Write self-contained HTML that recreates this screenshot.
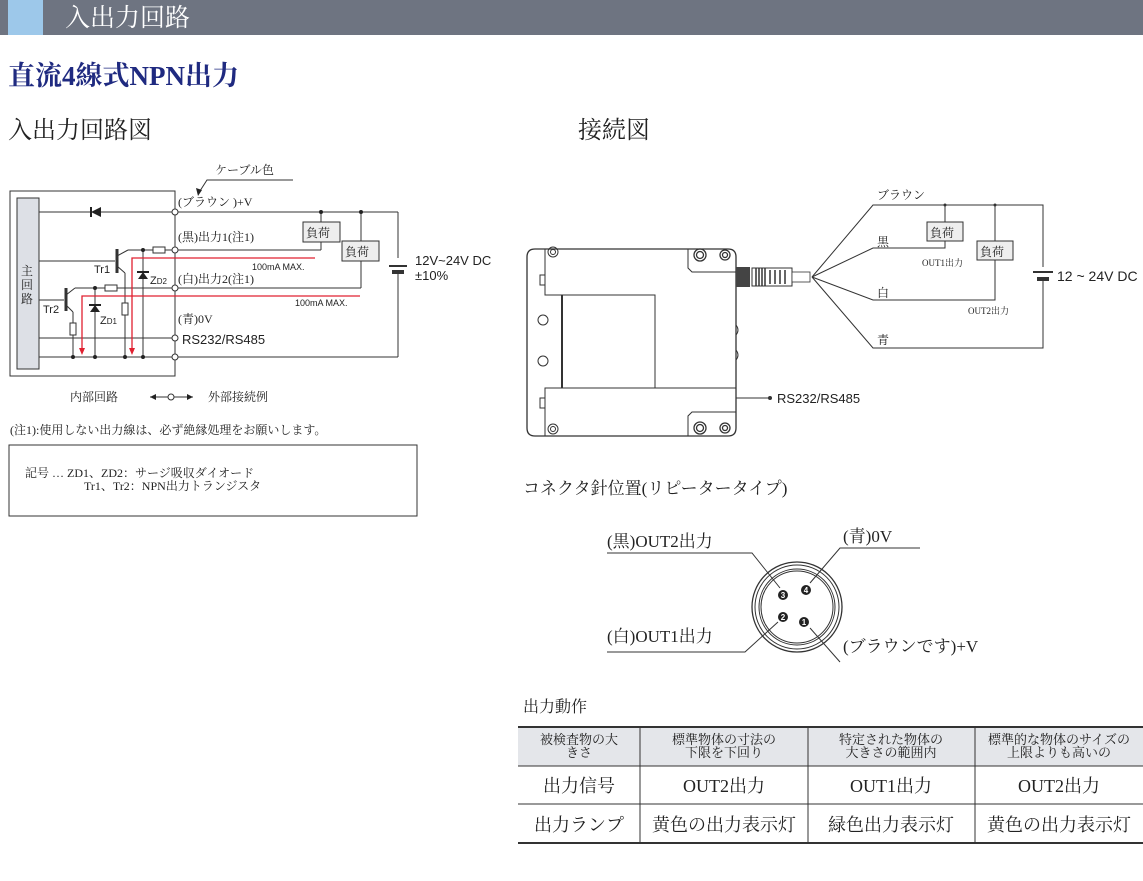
<!DOCTYPE html>
<html><head><meta charset="utf-8"><style>
body{margin:0;background:#fff;}
svg text{font-family:"Liberation Serif","Noto Serif CJK SC","Noto Sans CJK JP",serif;fill:#222;}
.s{font-family:"Liberation Sans","Noto Sans CJK JP",sans-serif !important;}
</style></head><body>
<svg width="1143" height="876" viewBox="0 0 1143 876" xmlns="http://www.w3.org/2000/svg">
<rect x="0" y="0" width="1143" height="35" fill="#6e7481"/>
<rect x="8" y="0" width="35" height="35" fill="#9dc8ea"/>
<text x="65" y="26" font-size="25" style="fill:#fff">入出力回路</text>
<text x="8" y="85" font-size="27" font-weight="bold" style="fill:#1f2a80">直流4線式NPN出力</text>
<text x="8" y="138" font-size="24">入出力回路図</text>
<text x="578" y="138" font-size="24">接続図</text>

<!-- circuit -->
<g stroke="#333" stroke-width="1" fill="none">
<rect x="10" y="191" width="165" height="185"/>
<rect x="17" y="198" width="22" height="171" fill="#dde0e6"/>
<line x1="39" y1="212" x2="398" y2="212"/>
<line x1="398" y1="212" x2="398" y2="357"/>
<line x1="39" y1="357" x2="398" y2="357"/>
<line x1="39" y1="338" x2="175" y2="338"/>
<line x1="128" y1="250" x2="321" y2="250"/>
<line x1="321" y1="212" x2="321" y2="250"/>
<line x1="75" y1="288" x2="361" y2="288"/>
<line x1="361" y1="212" x2="361" y2="288"/>
<rect x="303" y="222" width="37" height="20" fill="#eee"/>
<rect x="342" y="241" width="37" height="20" fill="#eee"/>
<line x1="39" y1="261" x2="115" y2="261"/>
<line x1="117" y1="249" x2="117" y2="273" stroke-width="3"/>
<line x1="117" y1="256" x2="128" y2="250"/>
<line x1="117" y1="266" x2="125" y2="273"/>
<line x1="125" y1="273" x2="125" y2="357"/>
<rect x="122" y="303" width="6" height="12" fill="#fff"/>
<rect x="153" y="247" width="12" height="6" fill="#fff"/>
<line x1="143" y1="250" x2="143" y2="357"/>
<line x1="39" y1="300" x2="64" y2="300"/>
<line x1="66" y1="288" x2="66" y2="311" stroke-width="3"/>
<line x1="66" y1="295" x2="75" y2="288"/>
<line x1="66" y1="305" x2="73" y2="312"/>
<line x1="73" y1="312" x2="73" y2="357"/>
<rect x="70" y="323" width="6" height="12" fill="#fff"/>
<rect x="105" y="285" width="12" height="6" fill="#fff"/>
<line x1="95" y1="288" x2="95" y2="357"/>
<line x1="389" y1="265" x2="407" y2="265" stroke="#fff" stroke-width="14"/>
<line x1="389" y1="266" x2="407" y2="266" stroke-width="2"/>
<line x1="392" y1="272" x2="404" y2="272" stroke-width="4"/>
<polyline points="293,180 207,180 198,194"/>
<line x1="150" y1="397" x2="193" y2="397"/>
<rect x="9" y="445" width="408" height="71"/>
</g>
<g fill="#222">
<polygon points="91,212 101,207 101,217"/><line x1="91" y1="207" x2="91" y2="217" stroke="#222" stroke-width="2"/>
<polygon points="143,272 138,279 148,279"/><line x1="137" y1="272" x2="149" y2="272" stroke="#222" stroke-width="2"/>
<polygon points="95,305 90,312 100,312"/><line x1="89" y1="305" x2="101" y2="305" stroke="#222" stroke-width="2"/>
<polygon points="198,196 196,188 202,190"/>
<polygon points="150,397 156,394 156,400"/><polygon points="193,397 187,394 187,400"/>
<circle cx="321" cy="212" r="2"/><circle cx="361" cy="212" r="2"/>
<circle cx="143" cy="250" r="2"/><circle cx="95" cy="288" r="2"/>
<circle cx="73" cy="357" r="2"/><circle cx="95" cy="357" r="2"/><circle cx="125" cy="357" r="2"/><circle cx="143" cy="357" r="2"/>
</g>
<g fill="#fff" stroke="#333">
<circle cx="175" cy="212" r="3"/><circle cx="175" cy="250" r="3"/><circle cx="175" cy="288" r="3"/><circle cx="175" cy="338" r="3"/><circle cx="175" cy="357" r="3"/><circle cx="171" cy="397" r="3"/>
</g>
<g stroke="#e02030" stroke-width="1.3" fill="none">
<polyline points="315,258 132,258 132,350"/>
<polyline points="360,296 82,296 82,350"/>
</g>
<polygon points="132,355 129,348 135,348" fill="#e02030"/>
<polygon points="82,355 79,348 85,348" fill="#e02030"/>
<text x="21" y="275" font-size="12">主</text><text x="21" y="289" font-size="12">回</text><text x="21" y="303" font-size="12">路</text>
<text x="306" y="237" font-size="12">負荷</text><text x="345" y="256" font-size="12">負荷</text>
<text x="215" y="174" font-size="12">ケーブル色</text>
<text x="178" y="206" font-size="12">(ブラウン )+V</text>
<text x="178" y="241" font-size="12">(黒)出力1(注1)</text>
<text x="178" y="283" font-size="12">(白)出力2(注1)</text>
<text x="178" y="323" font-size="12">(青)0V</text>
<text x="182" y="344" font-size="13" class="s">RS232/RS485</text>
<text x="252" y="270" font-size="9" class="s">100mA MAX.</text>
<text x="295" y="306" font-size="9" class="s">100mA MAX.</text>
<text x="94" y="273" font-size="11" class="s">Tr1</text>
<text x="43" y="313" font-size="11" class="s">Tr2</text>
<text x="150" y="284" font-size="11" class="s">Z<tspan font-size="8">D2</tspan></text>
<text x="100" y="324" font-size="11" class="s">Z<tspan font-size="8">D1</tspan></text>
<text x="415" y="265" font-size="13" class="s">12V~24V  DC</text>
<text x="415" y="280" font-size="13" class="s">±10%</text>
<text x="70" y="401" font-size="12">内部回路</text>
<text x="208" y="401" font-size="12">外部接続例</text>
<text x="10" y="434" font-size="12">(注1):使用しない出力線は、必ず絶縁処理をお願いします。</text>
<text x="25" y="477" font-size="12">記号 …  ZD1、ZD2：サージ吸収ダイオード</text>
<text x="84" y="490" font-size="12">Tr1、Tr2：NPN出力トランジスタ</text>

<!-- device -->
<g stroke="#333" stroke-width="1.3" fill="none">
<path d="M535,249 H728 Q736,249 736,257 V428 Q736,436 728,436 H535 Q527,436 527,428 V257 Q527,249 535,249 Z"/>
<g stroke-width="1">
<polyline points="545,249 545,295 562,295"/>
<polyline points="545,436 545,388 736,388"/>
<polyline points="688,249 688,268 692,272 736,272"/>
<polyline points="688,436 688,416 692,412 736,412"/>
<rect x="562" y="295" width="93" height="93"/>
<rect x="540" y="275" width="5" height="10"/>
<rect x="540" y="398" width="5" height="10"/>
<path d="M736,325 Q740,330 736,335 M736,350 Q740,355 736,360"/>
<circle cx="543" cy="320" r="5"/><circle cx="543" cy="361" r="5"/>
</g>
<line x1="562" y1="295" x2="562" y2="388" stroke-width="2"/>
<circle cx="553" cy="252" r="5" stroke-width="1"/><circle cx="553" cy="252" r="2.5" stroke-width="1"/>
<circle cx="700" cy="255" r="6"/><circle cx="700" cy="255" r="3.5"/>
<circle cx="725" cy="255" r="5"/><circle cx="725" cy="255" r="2.5"/>
<circle cx="553" cy="429" r="5" stroke-width="1"/><circle cx="553" cy="429" r="2.5" stroke-width="1"/>
<circle cx="700" cy="428" r="6"/><circle cx="700" cy="428" r="3.5"/>
<circle cx="725" cy="428" r="5"/><circle cx="725" cy="428" r="2.5"/>
<line x1="736" y1="398" x2="770" y2="398" stroke-width="1"/>
</g>
<rect x="736" y="267" width="14" height="20" fill="#444"/>
<rect x="752" y="268" width="40" height="18" fill="#fff" stroke="#333"/>
<g stroke="#333" stroke-width="1.5">
<line x1="756" y1="268" x2="756" y2="286"/><line x1="759" y1="268" x2="759" y2="286"/><line x1="762" y1="268" x2="762" y2="286"/><line x1="765" y1="268" x2="765" y2="286"/>
<line x1="770" y1="270" x2="770" y2="284"/><line x1="775" y1="270" x2="775" y2="284"/><line x1="780" y1="270" x2="780" y2="284"/><line x1="785" y1="270" x2="785" y2="284"/>
</g>
<rect x="792" y="272" width="18" height="10" fill="#fff" stroke="#333" stroke-width="0.8"/>
<circle cx="770" cy="398" r="2" fill="#333"/>
<g stroke="#333" stroke-width="1" fill="none">
<polyline points="812,277 873,205 1043,205 1043,348 873,348 812,277"/>
<polyline points="812,277 873,248 945,248 945,205"/>
<polyline points="812,277 873,300 995,300 995,205"/>
<rect x="927" y="222" width="36" height="19" fill="#eee"/>
<rect x="977" y="241" width="36" height="19" fill="#eee"/>
<line x1="1034" y1="273" x2="1052" y2="273" stroke="#fff" stroke-width="12"/>
<line x1="1033" y1="272" x2="1053" y2="272" stroke-width="2"/>
<line x1="1037" y1="279" x2="1049" y2="279" stroke-width="4"/>
</g>
<circle cx="945" cy="205" r="1.5" fill="#333"/><circle cx="995" cy="205" r="1.5" fill="#333"/>
<text x="930" y="237" font-size="12">負荷</text><text x="980" y="256" font-size="12">負荷</text>
<text x="877" y="199" font-size="12">ブラウン</text>
<text x="877" y="246" font-size="12">黒</text>
<text x="877" y="297" font-size="12">白</text>
<text x="877" y="344" font-size="12">青</text>
<text x="922" y="266" font-size="9">OUT1出力</text>
<text x="968" y="314" font-size="9">OUT2出力</text>
<text x="1057" y="281" font-size="14" class="s">12 ~ 24V DC</text>
<text x="777" y="403" font-size="13" class="s">RS232/RS485</text>

<!-- connector -->
<text x="523" y="494" font-size="17">コネクタ針位置(リピータータイプ)</text>
<g stroke="#333" fill="none">
<circle cx="797" cy="607" r="45" stroke-width="1.3"/>
<circle cx="797" cy="607" r="42" stroke-width="1"/>
<circle cx="797" cy="607" r="38" stroke-width="1"/>
<circle cx="797" cy="607" r="36" stroke-width="1"/>
<polyline points="607,553 752,553 780,588" stroke-width="1"/>
<polyline points="920,548 840,548 810,583" stroke-width="1"/>
<polyline points="607,652 745,652 778,622" stroke-width="1"/>
<polyline points="810,628 840,662" stroke-width="1"/>
</g>
<g fill="#222">
<circle cx="783" cy="595" r="5"/><circle cx="806" cy="590" r="5"/><circle cx="783" cy="617" r="5"/><circle cx="804" cy="622" r="5"/>
</g>
<g font-size="8" font-weight="bold" text-anchor="middle">
<text x="783" y="598" class="s" style="fill:#fff">3</text><text x="806" y="593" class="s" style="fill:#fff">4</text><text x="783" y="620" class="s" style="fill:#fff">2</text><text x="804" y="625" class="s" style="fill:#fff">1</text>
</g>
<text x="607" y="547" font-size="17">(黒)OUT2出力</text>
<text x="843" y="542" font-size="17">(青)0V</text>
<text x="607" y="642" font-size="17">(白)OUT1出力</text>
<text x="843" y="652" font-size="17">(ブラウンです)+V</text>

<!-- table -->
<text x="523" y="712" font-size="16">出力動作</text>
<rect x="518" y="727" width="625" height="39" fill="#e4e6ea"/>
<g stroke="#333" fill="none">
<line x1="518" y1="727" x2="1143" y2="727" stroke-width="2"/>
<line x1="518" y1="766" x2="1143" y2="766"/>
<line x1="518" y1="804" x2="1143" y2="804"/>
<line x1="518" y1="843" x2="1143" y2="843" stroke-width="2"/>
<line x1="640" y1="727" x2="640" y2="843"/>
<line x1="808" y1="727" x2="808" y2="843"/>
<line x1="975" y1="727" x2="975" y2="843"/>
</g>
<g font-size="13" text-anchor="middle">
<text x="579" y="744">被検査物の大</text><text x="579" y="757">きさ</text>
<text x="724" y="744">標準物体の寸法の</text><text x="724" y="757">下限を下回り</text>
<text x="891" y="744">特定された物体の</text><text x="891" y="757">大きさの範囲内</text>
<text x="1059" y="744">標準的な物体のサイズの</text><text x="1059" y="757">上限よりも高いの</text>
</g>
<g font-size="18" text-anchor="middle">
<text x="579" y="792">出力信号</text>
<text x="724" y="792">OUT2出力</text>
<text x="891" y="792">OUT1出力</text>
<text x="1059" y="792">OUT2出力</text>
<text x="579" y="831">出力ランプ</text>
<text x="724" y="831">黄色の出力表示灯</text>
<text x="891" y="831">緑色出力表示灯</text>
<text x="1059" y="831">黄色の出力表示灯</text>
</g>
</svg>
</body></html>
